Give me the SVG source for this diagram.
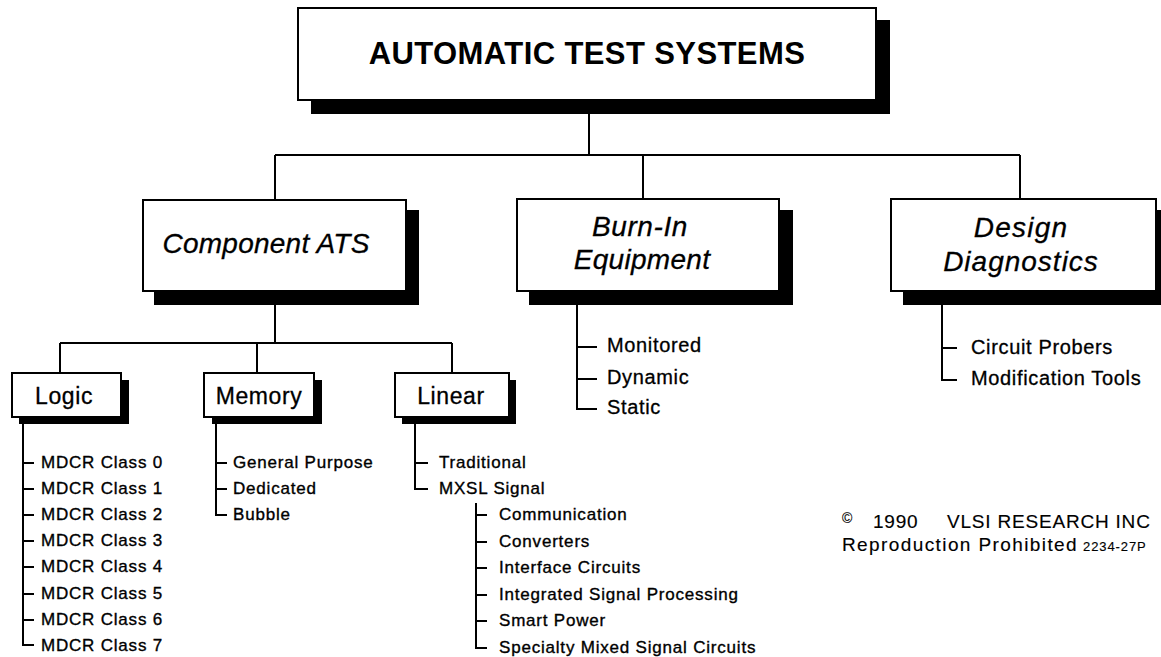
<svg xmlns="http://www.w3.org/2000/svg" width="1161" height="657" viewBox="0 0 1161 657">
  <style>
    text { font-family: "Liberation Sans", Arial, Helvetica, sans-serif; fill: #000; }
    .box { fill: #fff; stroke: #000; stroke-width: 2; }
    .shadow { fill: #000; }
    .wire { fill: none; stroke: #000; stroke-width: 2; }
    .title { font-size: 31px; font-weight: bold; letter-spacing: 0.4px; text-anchor: middle; }
    .major { font-size: 28px; font-style: italic; text-anchor: middle; stroke: #000; stroke-width: 0.3; }
    .minor { font-size: 23px; letter-spacing: 0.6px; text-anchor: middle; stroke: #000; stroke-width: 0.3; }
    .item { font-size: 17px; letter-spacing: 0.8px; stroke: #000; stroke-width: 0.35; }
    .item2 { font-size: 20px; letter-spacing: 0.65px; stroke: #000; stroke-width: 0.3; }
    .note { font-size: 19px; letter-spacing: 0.8px; stroke: #000; stroke-width: 0.15; }
  </style>

  <!-- connectors -->
  <g id="connectors">
    <!-- root to the three categories -->
    <path class="wire" d="M589 114 V155 M275 155 H1020 M275 155 V200 M643 155 V199 M1020 155 V199"/>
    <!-- component ATS to logic / memory / linear -->
    <path class="wire" d="M275 305 V343 M60 343 H452 M60 343 V373 M257 343 V373 M452 343 V373"/>
    <!-- logic list -->
    <path class="wire" d="M23 424 V645 H34 M23 463 H34 M23 489 H34 M23 515 H34 M23 541 H34 M23 567 H34 M23 594 H34 M23 620 H34"/>
    <!-- memory list -->
    <path class="wire" d="M216 424 V515 H227 M216 463 H227 M216 489 H227"/>
    <!-- linear list -->
    <path class="wire" d="M415 424 V489 H428 M415 463 H428"/>
    <!-- mixed signal list -->
    <path class="wire" d="M476 503 V648 H487 M476 515 H487 M476 542 H487 M476 568 H487 M476 595 H487 M476 621 H487"/>
    <!-- burn-in list -->
    <path class="wire" d="M577 305 V409 H597 M577 347 H597 M577 379 H597"/>
    <!-- design diagnostics list -->
    <path class="wire" d="M942 305 V380 H957 M942 348 H957"/>
  </g>

  <g id="root">
    <rect class="shadow" x="311" y="20" width="579" height="94"/>
    <rect class="box" x="298" y="8" width="578" height="92"/>
    <text class="title" x="587" y="64">AUTOMATIC TEST SYSTEMS</text>
  </g>

  <g id="component-ats">
    <rect class="shadow" x="154" y="210" width="265" height="95"/>
    <rect class="box" x="143" y="200" width="263" height="91"/>
    <text class="major" x="266" y="253" style="letter-spacing:0.25px">Component ATS</text>
  </g>

  <g id="burn-in">
    <rect class="shadow" x="529" y="210" width="264" height="95"/>
    <rect class="box" x="517" y="199" width="262" height="92"/>
    <text class="major" x="640" y="236" style="letter-spacing:0.6px">Burn-In</text>
    <text class="major" x="642" y="269" style="letter-spacing:0.3px">Equipment</text>
  </g>

  <g id="design-diagnostics">
    <rect class="shadow" x="903" y="210" width="264" height="95"/>
    <rect class="box" x="891" y="199" width="265" height="92"/>
    <text class="major" x="1021" y="237" style="letter-spacing:1.2px">Design</text>
    <text class="major" x="1021" y="271" style="letter-spacing:1px">Diagnostics</text>
  </g>

  <g id="logic">
    <rect class="shadow" x="19" y="380" width="110" height="44"/>
    <rect class="box" x="12" y="373" width="109" height="44"/>
    <text class="minor" x="64" y="404">Logic</text>
  </g>

  <g id="memory">
    <rect class="shadow" x="212" y="380" width="110" height="44"/>
    <rect class="box" x="204" y="373" width="110" height="44"/>
    <text class="minor" x="259" y="404">Memory</text>
  </g>

  <g id="linear">
    <rect class="shadow" x="402" y="380" width="114" height="44"/>
    <rect class="box" x="395" y="373" width="114" height="44"/>
    <text class="minor" x="451" y="404">Linear</text>
  </g>

  <g id="logic-items">
    <text class="item" x="41" y="468">MDCR Class 0</text>
    <text class="item" x="41" y="494">MDCR Class 1</text>
    <text class="item" x="41" y="520">MDCR Class 2</text>
    <text class="item" x="41" y="546">MDCR Class 3</text>
    <text class="item" x="41" y="572">MDCR Class 4</text>
    <text class="item" x="41" y="599">MDCR Class 5</text>
    <text class="item" x="41" y="625">MDCR Class 6</text>
    <text class="item" x="41" y="651">MDCR Class 7</text>
  </g>

  <g id="memory-items">
    <text class="item" x="233" y="468">General Purpose</text>
    <text class="item" x="233" y="494">Dedicated</text>
    <text class="item" x="233" y="520">Bubble</text>
  </g>

  <g id="linear-items">
    <text class="item" x="439" y="468">Traditional</text>
    <text class="item" x="439" y="494">MXSL Signal</text>
  </g>

  <g id="mixed-signal-items">
    <text class="item" x="499" y="520">Communication</text>
    <text class="item" x="499" y="547">Converters</text>
    <text class="item" x="499" y="573">Interface Circuits</text>
    <text class="item" x="499" y="600">Integrated Signal Processing</text>
    <text class="item" x="499" y="626">Smart Power</text>
    <text class="item" x="499" y="653">Specialty Mixed Signal Circuits</text>
  </g>

  <g id="burn-in-items">
    <text class="item2" x="607" y="352">Monitored</text>
    <text class="item2" x="607" y="384">Dynamic</text>
    <text class="item2" x="607" y="414">Static</text>
  </g>

  <g id="design-items">
    <text class="item2" x="971" y="354">Circuit Probers</text>
    <text class="item2" x="971" y="385">Modification Tools</text>
  </g>

  <g id="copyright">
    <text class="note" x="842" y="523" style="font-size:14px;letter-spacing:0">©</text>
    <text class="note" x="873" y="528">1990</text>
    <text class="note" x="947" y="528">VLSI RESEARCH INC</text>
    <text class="note" x="842" y="551" style="letter-spacing:1.4px">Reproduction Prohibited</text>
    <text class="note" x="1083" y="551" style="font-size:13px;letter-spacing:0.9px">2234-27P</text>
  </g>
</svg>
